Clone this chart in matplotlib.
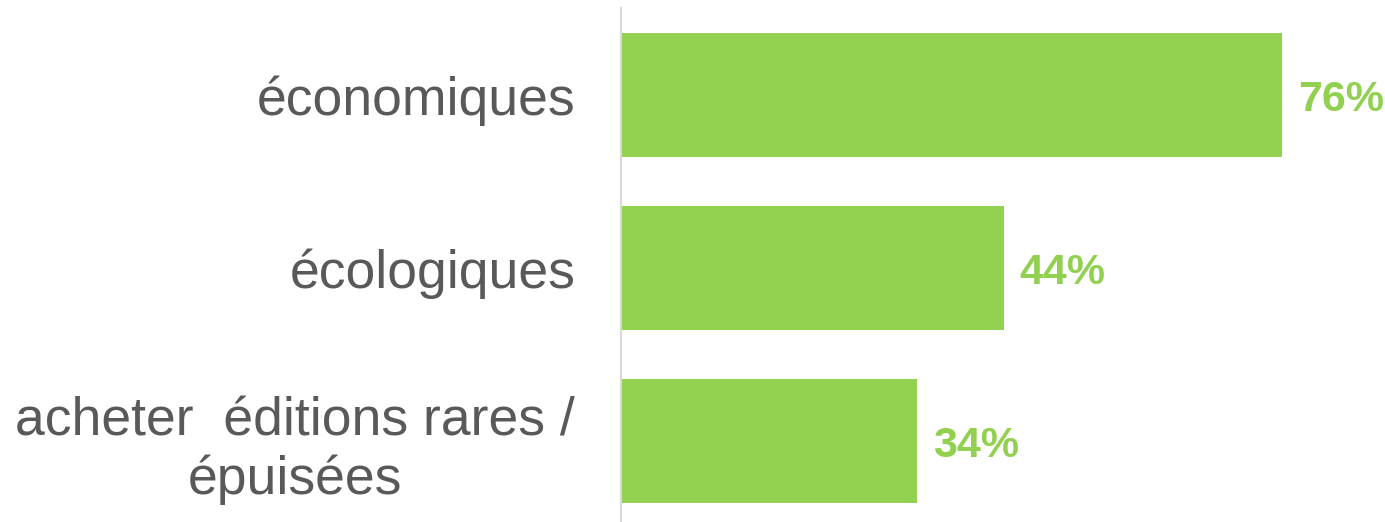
import matplotlib.pyplot as plt

plt.rcParams['font.family'] = ['Liberation Sans', 'DejaVu Sans']

# Data
categories = ['économiques', 'écologiques', 'acheter  éditions rares /\népuisées']
values = [76, 44, 34]

bar_color = '#92D050'
text_color = '#595959'

fig = plt.figure(figsize=(13.85, 5.22), dpi=100)
ax = fig.add_axes([621 / 1385, 0, 1 - 621 / 1385, 1 - 8 / 522])

pos = list(range(len(categories)))
bars = ax.barh(pos, values, height=0.717, color=bar_color)

ax.set_xlim(0, 87.8)
ax.set_ylim(2.468, -0.503)

ax.set_yticks(pos)
ax.set_yticklabels(categories, fontsize=38.5, color=text_color,
                   multialignment='center', linespacing=1.2)
ax.tick_params(axis='y', length=0, pad=33)
ax.set_xticks([])

for s in ['top', 'right', 'bottom']:
    ax.spines[s].set_visible(False)
ax.spines['left'].set_color('#D9D9D9')
ax.spines['left'].set_linewidth(1.5)

for b, v in zip(bars, values):
    ax.annotate(f'{v}%', (b.get_width(), b.get_y() + b.get_height() / 2),
                xytext=(11.5, -3.5), textcoords='offset points',
                va='center', ha='left', fontsize=31, fontweight='bold',
                color=bar_color)

fig.savefig('out.png', dpi=100)
